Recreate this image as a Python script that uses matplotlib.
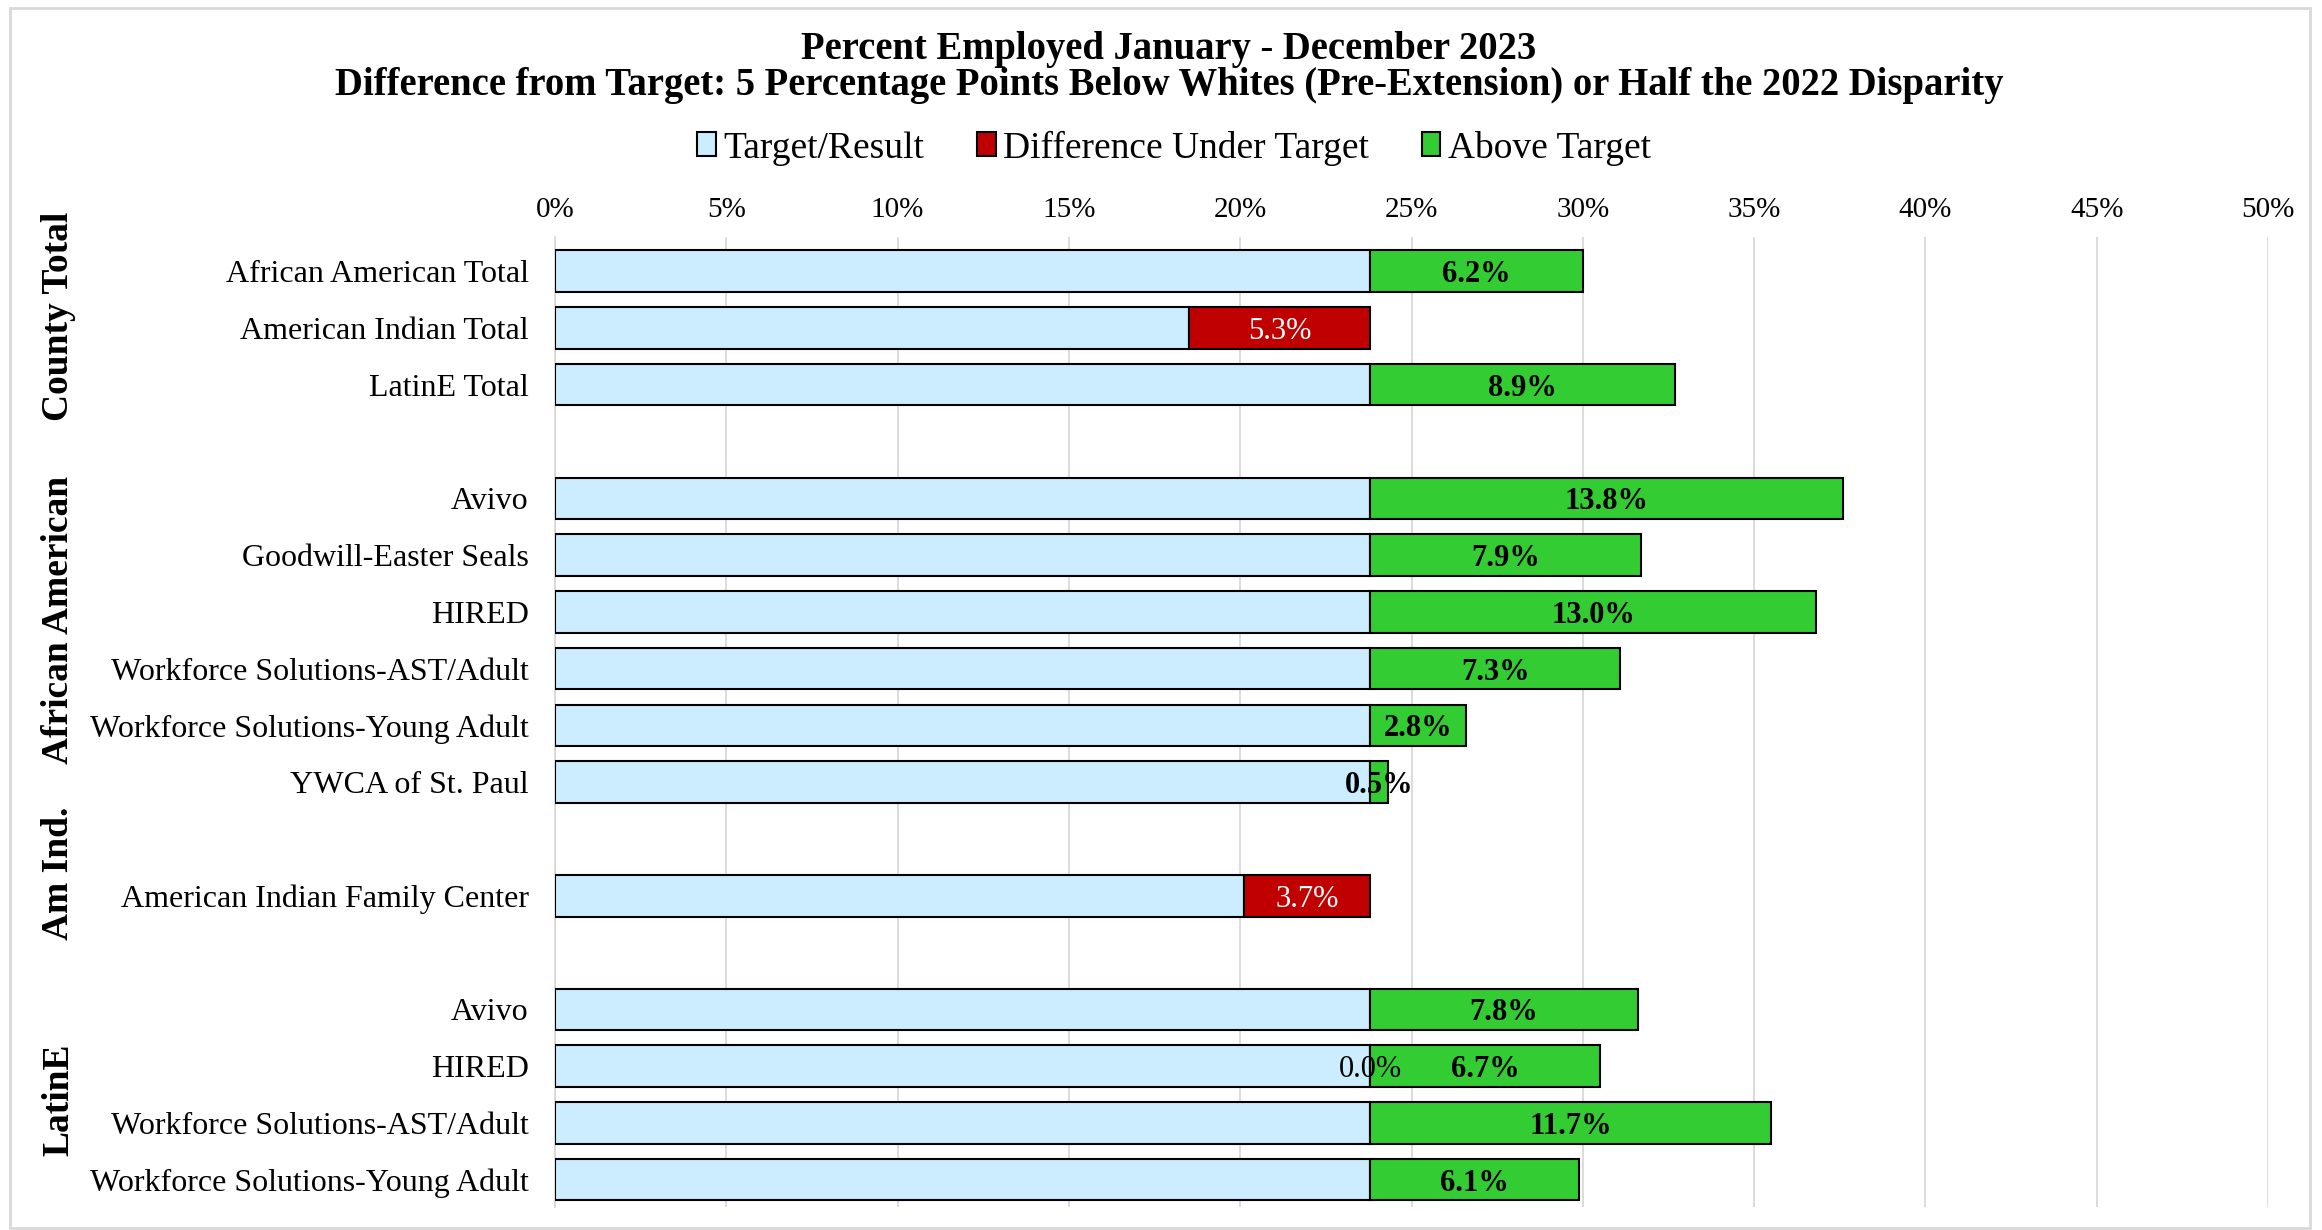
import numpy as np
import matplotlib
matplotlib.use("Agg")
import matplotlib.pyplot as plt
from matplotlib.patches import Patch, Rectangle

plt.rcParams["font.family"] = ["Liberation Serif", "DejaVu Serif"]

# ── Data ──────────────────────────────────────────────────────────────────────
TARGET = 23.8  # percent employed target (pre-extension)

GROUPS = ["County Total", "African American", "Am Ind.", "LatinE"]

county_labels = ["African American Total", "American Indian Total", "LatinE Total"]
county_under  = [np.nan, 5.3, np.nan]
county_above  = [6.2, np.nan, 8.9]

aa_labels = ["Avivo", "Goodwill-Easter Seals", "HIRED",
             "Workforce Solutions-AST/Adult", "Workforce Solutions-Young Adult",
             "YWCA of St. Paul"]
aa_under  = [np.nan, np.nan, np.nan, np.nan, np.nan, np.nan]
aa_above  = [13.8, 7.9, 13.0, 7.3, 2.8, 0.5]

ai_labels = ["American Indian Family Center"]
ai_under  = [3.7]
ai_above  = [np.nan]

lat_labels = ["Avivo", "HIRED", "Workforce Solutions-AST/Adult",
              "Workforce Solutions-Young Adult"]
lat_under  = [np.nan, 0.0, np.nan, np.nan]
lat_above  = [7.8, 6.7, 11.7, 6.1]

group_labels = [county_labels, aa_labels, ai_labels, lat_labels]
group_under  = [county_under, aa_under, ai_under, lat_under]
group_above  = [county_above, aa_above, ai_above, lat_above]

# ── Layout: one blank slot between groups ─────────────────────────────────────
labels, under, above, ypos, group_mid = [], [], [], [], []
slot = 0
for lab, und, abv in zip(group_labels, group_under, group_above):
    start = slot
    for l, u, a in zip(lab, und, abv):
        labels.append(l); under.append(u); above.append(a); ypos.append(slot)
        slot += 1
    group_mid.append((start + slot - 1) / 2)
    slot += 1
under = np.array(under, dtype=float)
above = np.array(above, dtype=float)
ypos = np.array(ypos)

blue_len = np.where(np.isnan(under), TARGET, TARGET - np.nan_to_num(under))

# ── Styling ───────────────────────────────────────────────────────────────────
BLUE  = "#CCECFF"
RED   = "#C00000"
GREEN = "#33CC33"
GRID  = "#D9D9D9"
H     = 0.73
EW    = 1.5
GROUP_NUDGE = [-0.2, -0.35, -0.4, 0.1]  # label offset from group middle (slots)

fig = plt.figure(figsize=(23.22, 12.30), dpi=100)
ax = fig.add_axes([555 / 2322, 1 - 1207 / 1230, (2268 - 555) / 2322, (1207 - 237) / 1230])

ax.barh(ypos, blue_len, height=H, color=BLUE, edgecolor="black", linewidth=EW, zorder=3)

m = ~np.isnan(under)
ax.barh(ypos[m], under[m], left=blue_len[m], height=H, color=RED,
        edgecolor="black", linewidth=EW, zorder=3)
m2 = ~np.isnan(above)
ax.barh(ypos[m2], above[m2], left=TARGET, height=H, color=GREEN,
        edgecolor="black", linewidth=EW, zorder=3)

# Data labels
for y, b, u, a in zip(ypos, blue_len, under, above):
    if not np.isnan(u):
        col = "white" if u > 0 else "black"
        ax.text(b + u / 2, y + 0.06, f"{u:.1f}%", ha="center", va="center",
                fontsize=22, color=col, zorder=5)
    if not np.isnan(a):
        ax.text(TARGET + a / 2, y + 0.06, f"{a:.1f}%", ha="center", va="center",
                fontsize=22, fontweight="bold", color="black", zorder=5)

ax.set_xlim(0, 50)
ax.set_ylim(16.48, -0.6)
ax.set_xticks(np.arange(0, 51, 5))
ax.set_xticklabels([f"{v}%" for v in range(0, 51, 5)])
ax.xaxis.tick_top()
ax.tick_params(axis="x", length=0, pad=10, labelsize=21)
ax.set_yticks(ypos)
ax.set_yticklabels(labels)
ax.tick_params(axis="y", length=0, pad=19, labelsize=23)
ax.grid(axis="x", color=GRID, linewidth=1.3, zorder=0)
for s in ["top", "right", "bottom"]:
    ax.spines[s].set_visible(False)
ax.spines["left"].set_color(GRID)
ax.spines["left"].set_linewidth(1.3)

# Group labels (rotated, bold)
trans = matplotlib.transforms.blended_transform_factory(fig.transFigure, ax.transData)
for name, mid, nudge in zip(GROUPS, group_mid, GROUP_NUDGE):
    ax.text(59 / 2322, mid + nudge, name, transform=trans, rotation=90,
            ha="center", va="center", fontsize=27, fontweight="bold")

# Title
fig.text(1169 / 2322, 1 - 49 / 1230, "Percent Employed January - December 2023",
         ha="center", va="center", fontsize=27.8, fontweight="bold")
fig.text(1169 / 2322, 1 - 85 / 1230,
         "Difference from Target: 5 Percentage Points Below Whites (Pre-Extension) "
         "or Half the 2022 Disparity",
         ha="center", va="center", fontsize=27.8, fontweight="bold")

# Legend
handles = [Patch(facecolor=BLUE, edgecolor="black", linewidth=EW, label="Target/Result"),
           Patch(facecolor=RED, edgecolor="black", linewidth=EW, label="Difference Under Target"),
           Patch(facecolor=GREEN, edgecolor="black", linewidth=EW, label="Above Target")]
fig.legend(handles=handles, loc="center", bbox_to_anchor=(1174 / 2322, 1 - 148 / 1230),
           ncol=3, frameon=False, fontsize=27, handlelength=0.5, handleheight=0.6,
           handletextpad=0.2, columnspacing=1.4)

# Outer border
fig.patches.append(Rectangle((10 / 2322, 2 / 1230), 2300 / 2322, 1220 / 1230,
                             transform=fig.transFigure, fill=False,
                             edgecolor=GRID, linewidth=2))

fig.savefig("out.png", dpi=100)
